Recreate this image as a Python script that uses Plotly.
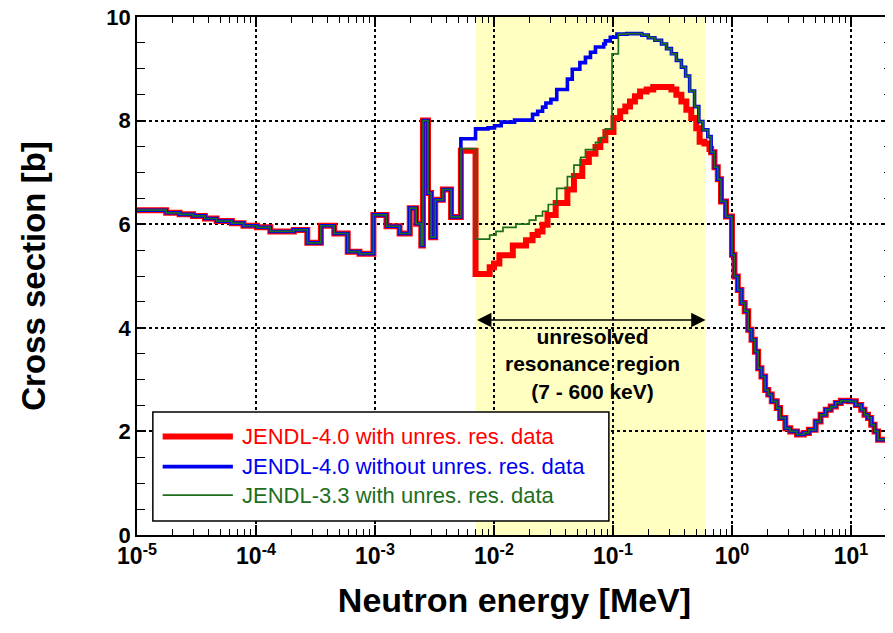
import math
import plotly.graph_objects as go

# ---------------- data (energy in MeV, cross section in barns) ----------------
# common resolved-resonance part (all three evaluations agree)
LOW_E = [1.0e-5, 1.76e-5, 2.28e-5, 2.96e-5, 3.72e-5, 4.67e-5, 6.27e-5, 7.85e-5,
         1.02e-4, 1.32e-4, 2.08e-4, 2.70e-4, 3.51e-4, 4.55e-4, 5.90e-4, 7.41e-4,
         9.70e-4, 1.25e-3, 1.61e-3, 1.96e-3, 2.22e-3, 2.45e-3, 2.53e-3, 2.79e-3,
         2.96e-3, 3.21e-3, 3.72e-3, 4.36e-3]
LOW_XS = [6.27, 6.22, 6.19, 6.16, 6.11, 6.06, 6.02, 5.97,
          5.94, 5.86, 5.89, 5.64, 5.97, 5.82, 5.47, 5.43,
          6.18, 5.96, 5.82, 6.31, 6.01, 5.59, 8.00, 6.60,
          5.75, 6.47, 6.67, 6.14]

# JENDL-4.0 with unresolved resonance data
RED_E = [5.27e-3, 7.0e-3, 9.20e-3, 1.0e-2, 1.11e-2, 1.44e-2, 1.86e-2, 2.11e-2,
         2.33e-2, 2.56e-2, 2.82e-2, 3.30e-2, 4.14e-2, 4.70e-2, 5.52e-2, 6.27e-2,
         7.13e-2, 7.83e-2, 8.63e-2, 0.101, 0.115, 0.127, 0.139, 0.153, 0.169,
         0.192, 0.218, 0.310, 0.341, 0.376, 0.414, 0.455, 0.501, 0.535, 0.587,
         0.647, 0.668, 0.713, 0.760, 0.809, 0.891]
RED_XS = [7.42, 5.04, 5.17, 5.24, 5.40, 5.59, 5.69, 5.79,
          5.86, 5.99, 6.18, 6.41, 6.67, 6.93, 7.20, 7.36,
          7.49, 7.62, 7.78, 8.05, 8.18, 8.27, 8.37, 8.47, 8.56,
          8.60, 8.65, 8.60, 8.50, 8.37, 8.21, 8.05, 7.85, 7.59, 7.56,
          7.45, 7.39, 7.10, 6.87, 6.44, 6.15]

# JENDL-4.0 without unresolved resonance data
BLUE_E = [5.27e-3, 7.0e-3, 8.91e-3, 1.01e-2, 1.15e-2, 1.49e-2, 2.11e-2, 2.33e-2,
          2.56e-2, 2.73e-2, 3.01e-2, 3.37e-2, 4.14e-2, 4.55e-2, 5.27e-2, 5.87e-2,
          6.47e-2, 7.13e-2, 8.36e-2, 8.63e-2, 9.50e-2, 0.108, 0.131, 0.175,
          0.198, 0.225, 0.256, 0.282, 0.310, 0.341, 0.376, 0.408, 0.441, 0.485,
          0.527, 0.570, 0.627, 0.668, 0.713, 0.760, 0.809, 0.891]
BLUE_XS = [7.65, 7.84, 7.86, 7.90, 7.97, 8.01, 8.12, 8.18,
           8.26, 8.34, 8.41, 8.60, 8.80, 8.99, 9.12, 9.22,
           9.32, 9.42, 9.48, 9.54, 9.61, 9.67, 9.68, 9.65,
           9.60, 9.55, 9.48, 9.39, 9.29, 9.16, 9.03, 8.86, 8.57, 8.27,
           7.98, 7.82, 7.69, 7.39, 7.10, 6.87, 6.44, 6.15]

# JENDL-3.3 with unresolved resonance data
GREEN_E = [5.27e-3, 7.0e-3, 9.20e-3, 1.04e-2, 1.19e-2, 1.53e-2, 1.98e-2, 2.25e-2,
           2.56e-2, 2.86e-2, 3.37e-2, 4.14e-2, 4.70e-2, 5.35e-2, 5.87e-2, 7.13e-2,
           7.83e-2, 8.63e-2, 9.82e-2, 0.111, 0.131, 0.175, 0.198, 0.225, 0.256,
           0.282, 0.310, 0.341, 0.376, 0.408, 0.441, 0.485, 0.527, 0.570, 0.627,
           0.668, 0.713, 0.760, 0.809, 0.891]
GREEN_XS = [7.46, 5.71, 5.79, 5.86, 5.94, 6.00, 6.08, 6.16,
            6.25, 6.38, 6.69, 6.92, 7.14, 7.29, 7.44, 7.58,
            7.67, 7.84, 9.29, 9.67, 9.68, 9.65, 9.60, 9.55, 9.48,
            9.39, 9.29, 9.16, 9.03, 8.86, 8.57, 8.27, 7.98, 7.82, 7.69,
            7.39, 7.10, 6.87, 6.44, 6.15]

# common fast-neutron part
HIGH_E = [1.0, 1.05, 1.12, 1.20, 1.28, 1.37, 1.46, 1.56, 1.66, 1.77, 1.90, 2.02,
          2.16, 2.38, 2.54, 2.81, 3.09, 3.52, 4.01, 4.43, 5.05, 5.56, 6.14, 6.76,
          7.46, 8.22, 9.68, 11.0, 12.2, 13.0, 13.9, 14.8, 15.8, 16.9]
HIGH_XS = [5.41, 4.99, 4.73, 4.48, 4.32, 3.96, 3.77, 3.54, 3.22, 3.06, 2.80, 2.71,
           2.58, 2.45, 2.26, 2.06, 2.00, 1.94, 1.97, 2.03, 2.19, 2.32, 2.42, 2.48,
           2.55, 2.59, 2.58, 2.51, 2.42, 2.32, 2.26, 2.13, 2.00, 1.84]
E_MAX = 20.0

URR_LO = 7.0e-3   # MeV
URR_HI = 0.6      # MeV

SERIES = [
    ("JENDL-4.0 with unres. res. data", RED_E, RED_XS, "#FF0000", 6.0),
    ("JENDL-4.0 without unres. res. data", BLUE_E, BLUE_XS, "#0000F0", 3.6),
    ("JENDL-3.3 with unres. res. data", GREEN_E, GREEN_XS, "#1E6E1E", 1.7),
]
X_TICKS = [1e-5, 1e-4, 1e-3, 1e-2, 1e-1, 1e0, 1e1]
X_TICKTEXT = ["10<sup>-5</sup>", "10<sup>-4</sup>", "10<sup>-3</sup>", "10<sup>-2</sup>",
              "10<sup>-1</sup>", "10<sup>0</sup>", "10<sup>1</sup>"]

FONT = "Liberation Sans, Arial, sans-serif"

fig = go.Figure()

for name, e, xs, color, width in SERIES:
    x = LOW_E + e + HIGH_E + [E_MAX]
    y = LOW_XS + xs + HIGH_XS + [HIGH_XS[-1]]
    fig.add_trace(go.Scatter(x=x, y=y, mode="lines", name=name,
                             line=dict(color=color, width=width, shape="hv"),
                             showlegend=False))

# shaded unresolved resonance region
fig.add_vrect(x0=URR_LO, x1=URR_HI, fillcolor="#FFFFC2", opacity=1,
              line_width=0, layer="below")

# double-headed arrow
ARROW_Y = 4.15
fig.add_annotation(x=math.log10(URR_HI), y=ARROW_Y, ax=math.log10(URR_LO), ay=ARROW_Y,
                   xref="x", yref="y", axref="x", ayref="y", text="",
                   showarrow=True, arrowhead=2, arrowside="end+start",
                   arrowsize=1.8, arrowwidth=1.6, arrowcolor="black",
                   standoff=0, startstandoff=0)
fig.add_annotation(x=-1.17, y=3.3, xref="x", yref="y",
                   text="unresolved<br>resonance region<br>(7 - 600 keV)",
                   showarrow=False, align="center",
                   font=dict(family=FONT, size=21, color="black", weight="bold"))

# legend (drawn manually to match the original's long line samples)
LX0, LX1, LY0, LY1 = 0.021, 0.625, 0.027, 0.2375
fig.add_shape(type="rect", xref="paper", yref="paper", x0=LX0, x1=LX1, y0=LY0, y1=LY1,
              fillcolor="white", line=dict(color="black", width=1.5), layer="above")
rows = [0.190, 0.132, 0.077]
for (name, e, xs, color, width), ry in zip(SERIES, rows):
    fig.add_shape(type="line", xref="paper", yref="paper", x0=0.034, x1=0.127,
                  y0=ry, y1=ry, line=dict(color=color, width=width), layer="above")
    fig.add_annotation(x=0.137, y=ry, xref="paper", yref="paper", text=name,
                       showarrow=False, xanchor="left", yanchor="middle",
                       font=dict(family=FONT, size=22, color=color))

fig.update_xaxes(type="log", range=[-5, 1.345], automargin=False,
                 tickvals=X_TICKS, ticktext=X_TICKTEXT, ticklabeloverflow="allow",
                 tickfont=dict(family=FONT, size=23, color="black", weight="bold"),
                 ticks="inside", ticklen=10, tickwidth=1.5, tickcolor="black",
                 minor=dict(dtick="D1", ticks="inside", ticklen=6, tickwidth=1.2,
                            tickcolor="black", showgrid=False),
                 showgrid=True, gridcolor="black", griddash="dot", gridwidth=1.5,
                 showline=True, linecolor="black", linewidth=1.5, mirror="allticks",
                 zeroline=False,
                 title=dict(text="Neutron energy [MeV]", standoff=20,
                            font=dict(family=FONT, size=34, color="black", weight="bold")))
fig.update_yaxes(range=[0, 10], dtick=2, automargin=False, ticklabeloverflow="allow",
                 tickfont=dict(family=FONT, size=22, color="black", weight="bold"),
                 ticks="inside", ticklen=8, tickwidth=1.5, tickcolor="black",
                 minor=dict(dtick=0.5, ticks="inside", ticklen=8, tickwidth=1.2,
                            tickcolor="black", showgrid=False),
                 showgrid=True, gridcolor="black", griddash="dot", gridwidth=1.5,
                 showline=True, linecolor="black", linewidth=1.5, mirror="allticks",
                 zeroline=False,
                 title=dict(text="Cross section [b]", standoff=51,
                            font=dict(family=FONT, size=33, color="black", weight="bold")))

# the page body adds an 8 px offset, so the figure is 8 px smaller than the window
fig.update_layout(width=885, height=625,
                  margin=dict(l=129, r=1, t=9, b=98),
                  paper_bgcolor="white", plot_bgcolor="white",
                  showlegend=False)

fig.write_html("out.html")
